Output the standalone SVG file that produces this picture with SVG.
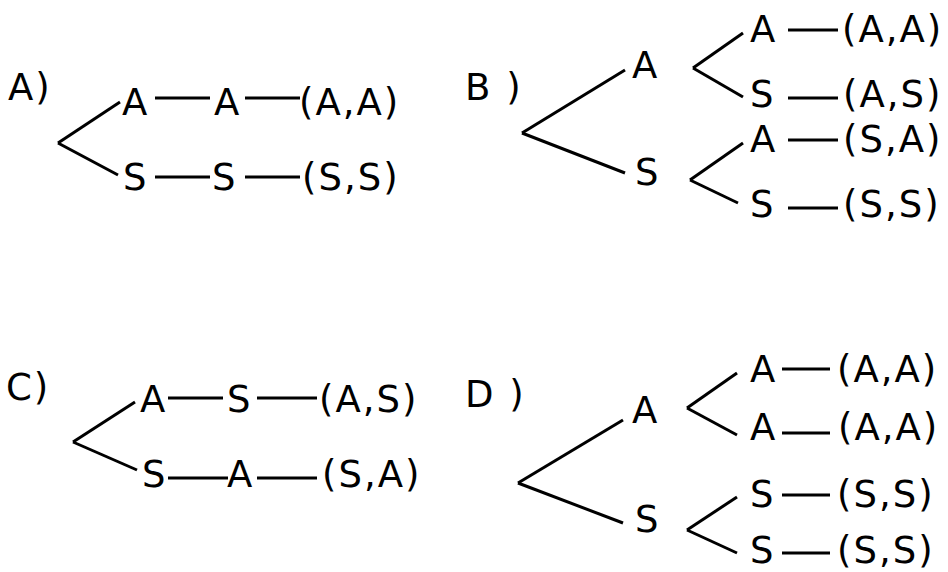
<svg xmlns="http://www.w3.org/2000/svg" width="948" height="572" viewBox="0 0 948 572">
<style>
text{font-family:"DejaVu Sans","Liberation Sans",sans-serif;font-size:37px;fill:#000}
.p{letter-spacing:2px}
.c line{stroke:#000;stroke-width:3;stroke-linecap:butt}
</style>
<rect width="948" height="572" fill="#fff"/>
<g class="c" id="connectors">
<line x1="58" y1="143" x2="120" y2="102"/>
<line x1="58" y1="143" x2="118" y2="175"/>
<line x1="155" y1="98" x2="210" y2="98"/>
<line x1="245" y1="98" x2="300" y2="98"/>
<line x1="155" y1="177" x2="210" y2="177"/>
<line x1="245" y1="177" x2="300" y2="177"/>
<line x1="522" y1="133" x2="625" y2="70"/>
<line x1="522" y1="133" x2="625" y2="173"/>
<line x1="693" y1="68" x2="743" y2="33"/>
<line x1="693" y1="68" x2="743" y2="97"/>
<line x1="690" y1="180" x2="743" y2="143"/>
<line x1="690" y1="180" x2="738" y2="203"/>
<line x1="788" y1="30" x2="838" y2="30"/>
<line x1="788" y1="98" x2="838" y2="98"/>
<line x1="788" y1="140" x2="838" y2="140"/>
<line x1="788" y1="208" x2="838" y2="208"/>
<line x1="73" y1="442" x2="135" y2="402"/>
<line x1="73" y1="442" x2="137" y2="470"/>
<line x1="168" y1="398" x2="223" y2="398"/>
<line x1="257" y1="398" x2="317" y2="398"/>
<line x1="168" y1="478" x2="228" y2="478"/>
<line x1="257" y1="478" x2="317" y2="478"/>
<line x1="518" y1="483" x2="623" y2="420"/>
<line x1="518" y1="483" x2="623" y2="523"/>
<line x1="687" y1="408" x2="737" y2="373"/>
<line x1="687" y1="408" x2="737" y2="435"/>
<line x1="687" y1="530" x2="737" y2="497"/>
<line x1="687" y1="530" x2="737" y2="553"/>
<line x1="782" y1="369" x2="830" y2="369"/>
<line x1="782" y1="433" x2="830" y2="433"/>
<line x1="782" y1="495" x2="830" y2="495"/>
<line x1="782" y1="553" x2="830" y2="553"/>
</g>
<g id="labelA"><text x="8" y="100" class="p">A)</text></g>
<g id="a-n1"><text x="122" y="115">A</text></g>
<g id="a-n2"><text x="214" y="115">A</text></g>
<g id="a-l1"><text x="299" y="115" class="p">(A,A)</text></g>
<g id="a-n3"><text x="123" y="190">S</text></g>
<g id="a-n4"><text x="212" y="190">S</text></g>
<g id="a-l2"><text x="302" y="190" class="p">(S,S)</text></g>
<g id="labelB"><text x="465" y="100" class="p">B )</text></g>
<g id="b-a"><text x="632" y="78">A</text></g>
<g id="b-s"><text x="635" y="185">S</text></g>
<g id="b-aa"><text x="750" y="42">A</text></g>
<g id="b-as"><text x="750" y="107">S</text></g>
<g id="b-sa"><text x="750" y="152">A</text></g>
<g id="b-ss"><text x="750" y="217">S</text></g>
<g id="b-l1"><text x="842" y="42" class="p">(A,A)</text></g>
<g id="b-l2"><text x="843" y="107" class="p">(A,S)</text></g>
<g id="b-l3"><text x="843" y="152" class="p">(S,A)</text></g>
<g id="b-l4"><text x="843" y="217" class="p">(S,S)</text></g>
<g id="labelC"><text x="6" y="400" class="p">C)</text></g>
<g id="c-n1"><text x="140" y="412">A</text></g>
<g id="c-n2"><text x="227" y="412">S</text></g>
<g id="c-l1"><text x="319" y="412" class="p">(A,S)</text></g>
<g id="c-n3"><text x="142" y="487">S</text></g>
<g id="c-n4"><text x="227" y="487">A</text></g>
<g id="c-l2"><text x="322" y="487" class="p">(S,A)</text></g>
<g id="labelD"><text x="465" y="407" class="p">D )</text></g>
<g id="d-a"><text x="632" y="423">A</text></g>
<g id="d-s"><text x="635" y="532">S</text></g>
<g id="d-aa1"><text x="750" y="382">A</text></g>
<g id="d-aa2"><text x="750" y="440">A</text></g>
<g id="d-ss1"><text x="750" y="507">S</text></g>
<g id="d-ss2"><text x="750" y="563">S</text></g>
<g id="d-l1"><text x="837" y="382" class="p">(A,A)</text></g>
<g id="d-l2"><text x="838" y="440" class="p">(A,A)</text></g>
<g id="d-l3"><text x="837" y="507" class="p">(S,S)</text></g>
<g id="d-l4"><text x="837" y="563" class="p">(S,S)</text></g>
</svg>
